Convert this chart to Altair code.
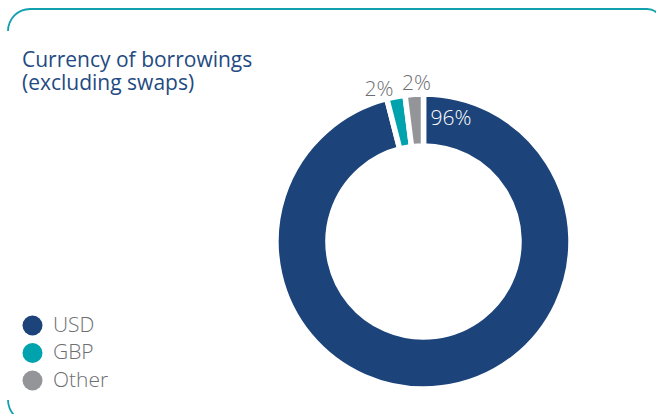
import altair as alt
import pandas as pd

# ---- data ----
currencies = ["USD", "GBP", "Other"]
shares = [96, 2, 2]
share_labels = ["96%", "2%", "2%"]
title_lines = ["Currency of borrowings", "(excluding swaps)"]

# ---- styles ----
slice_colors = ["#1c437a", "#00a3ad", "#939598"]
label_nudge = [3.5, -0.55, 1.3]      # offset of each label from its slice start (in % of the circle)
label_radius = [126, 158, 158]
TEAL = "#12a0ae"
GREY = "#6d6e71"
NAVY = "#1f4a82"
FONT = "Open Sans"
CX, CY = 423.5, 241.5

s = pd.Series(shares)
starts = s.cumsum() - s
df = pd.DataFrame({
    "currency": currencies,
    "share": shares,
    "label": share_labels,
    "order": list(range(len(currencies))),
    "label_theta": starts + pd.Series(label_nudge),
    "label_r": label_radius,
})

one = pd.DataFrame({"k": [0]})

donut = alt.Chart(df).mark_arc(radius=147.5, radius2=95.5, stroke="white", strokeWidth=5.5).encode(
    theta=alt.Theta("share:Q", stack=True),
    order=alt.Order("order:Q"),
    color=alt.Color(
        "currency:N",
        scale=alt.Scale(domain=currencies, range=slice_colors),
        legend=alt.Legend(
            orient="none", legendX=22, legendY=315, title=None,
            symbolType="circle", symbolSize=400, symbolStrokeWidth=0,
            labelFontSize=21, labelColor=GREY, labelFont=FONT, labelFontWeight=300,
            rowPadding=5.5, labelOffset=10,
        ),
    ),
    x=alt.value(CX),
    y=alt.value(CY),
)

inside = alt.Chart(df).transform_filter("datum.order == 0").mark_text(
    fontSize=21, font=FONT, fontWeight=300, color="white", align="center", baseline="middle"
).encode(
    theta=alt.Theta("label_theta:Q", stack=None),
    radius=alt.Radius("label_r:Q", scale=None),
    text="label:N",
    x=alt.value(CX),
    y=alt.value(CY),
)

outside = alt.Chart(df).transform_filter("datum.order > 0").mark_text(
    fontSize=21, font=FONT, fontWeight=300, color=GREY, align="center", baseline="middle"
).encode(
    theta=alt.Theta("label_theta:Q", stack=None),
    radius=alt.Radius("label_r:Q", scale=None),
    text="label:N",
    x=alt.value(CX),
    y=alt.value(CY),
)

title = alt.Chart(one).mark_text(
    align="left", baseline="alphabetic", fontSize=21, font=FONT, color=NAVY, lineHeight=23
).encode(text=alt.value(title_lines), x=alt.value(22), y=alt.value(67))

# decorative frame
top_line = alt.Chart(one).mark_rule(color=TEAL, strokeWidth=1.8).encode(
    x=alt.value(30), x2=alt.value(647), y=alt.value(9)
)
corner_tl = alt.Chart(one).mark_arc(radius=22.9, radius2=21.1, theta=4.712389, theta2=6.283185, color=TEAL).encode(
    x=alt.value(30), y=alt.value(31)
)
corner_tr = alt.Chart(one).mark_arc(radius=15.9, radius2=14.1, theta=0.0001, theta2=1.570796, color=TEAL).encode(
    x=alt.value(647), y=alt.value(24)
)
corner_bl = alt.Chart(one).mark_arc(radius=22.9, radius2=21.1, theta=3.141593, theta2=4.712389, color=TEAL).encode(
    x=alt.value(30), y=alt.value(400)
)

chart = alt.layer(
    top_line, corner_tl, corner_tr, corner_bl, title, donut, inside, outside
).properties(
    width=656, height=414, autosize="none", padding=0
).configure_view(stroke=None)

chart.save("out.html", embed_options={"renderer": "svg", "actions": False})
